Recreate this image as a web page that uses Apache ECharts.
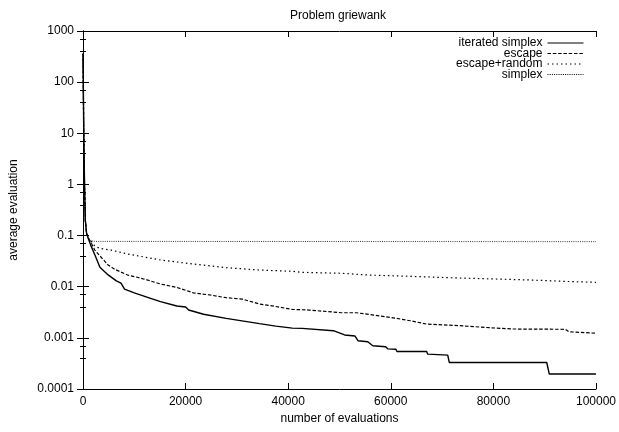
<!DOCTYPE html>
<html>
<head>
<meta charset="utf-8">
<script src="https://cdn.jsdelivr.net/npm/echarts@6/dist/echarts.min.js"></script>
<style>
  html, body { margin: 0; padding: 0; background: #fff; }
  #chart { width: 619px; height: 432px; }
</style>
</head>
<body>
<div id="chart"></div>
<script>
// series names
var seriesNames = ['iterated simplex', 'escape', 'escape+random', 'simplex'];

// x ticks and y tick labels (log axis, 1e-4 .. 1e3)
var xTicks = [0, 20000, 40000, 60000, 80000, 100000];
var yTickLabels = ['0.0001', '0.001', '0.01', '0.1', '1', '10', '100', '1000'];

// [evaluations, average evaluation]
var iteratedSimplex = [
    [0, 360], [150, 10], [300, 1], [450, 0.2], [700, 0.11], [1000, 0.09], [1500, 0.065],
    [2300, 0.042], [3300, 0.024], [4900, 0.017], [6500, 0.013], [7400, 0.0117], [8100, 0.009],
    [10000, 0.0076], [12600, 0.0062], [15100, 0.0051], [18300, 0.0042], [20000, 0.004],
    [20600, 0.0035], [23500, 0.0029], [27900, 0.0024], [34400, 0.0019], [37600, 0.0017],
    [40800, 0.00155], [42700, 0.00153], [48800, 0.00138], [51000, 0.00114], [53000, 0.00109],
    [53600, 0.00088], [55500, 0.00084], [56500, 0.0007], [59000, 0.00067], [59400, 0.00061],
    [61000, 0.0006], [61200, 0.00054], [67000, 0.00054], [67200, 0.00048], [71100, 0.00046],
    [71400, 0.00033], [90400, 0.00033], [90900, 0.000196], [100000, 0.000196]
];
var escape = [
    [0, 360], [150, 10], [300, 1], [450, 0.2], [700, 0.11], [1000, 0.09], [1500, 0.075],
    [2300, 0.052], [3300, 0.04], [4900, 0.0266], [6200, 0.0219], [8700, 0.0169],
    [10600, 0.0153], [12600, 0.0135], [15100, 0.0113], [18300, 0.0097], [21500, 0.0076],
    [24700, 0.0069], [27900, 0.0061], [31100, 0.0057], [34400, 0.0046], [37600, 0.0041],
    [40800, 0.0036], [44000, 0.0035], [50400, 0.0031], [53300, 0.0031], [58000, 0.00267],
    [60000, 0.00251], [63800, 0.00216], [67000, 0.00186], [73500, 0.00173], [79200, 0.00158],
    [83700, 0.00149], [94000, 0.00147], [94700, 0.00132], [100000, 0.00123]
];
var escapeRandom = [
    [0, 360], [150, 10], [300, 1], [450, 0.2], [700, 0.11], [1000, 0.09], [1500, 0.08],
    [2300, 0.0625], [3300, 0.056], [5500, 0.052], [8700, 0.0436], [15100, 0.0333],
    [21500, 0.0278], [27900, 0.0236], [34400, 0.0212], [40800, 0.02], [42700, 0.0191],
    [50400, 0.0183], [55700, 0.0169], [61900, 0.0162], [71500, 0.015], [81000, 0.0141],
    [87500, 0.0135], [94000, 0.0127], [100000, 0.0122]
];
var simplex = [
    [0, 360], [150, 10], [300, 1], [450, 0.2], [700, 0.11], [1000, 0.09], [1500, 0.08],
    [2300, 0.077], [100000, 0.076]
];

var chart = echarts.init(document.getElementById('chart'), null, {renderer: 'canvas'});

var font = 'Liberation Sans, Arial, Helvetica, sans-serif';
var axisLine = {show: true, lineStyle: {color: '#000', width: 1}};

// one legend per row so the text is right aligned like gnuplot
var legendTops = [37, 47.5, 58, 68.5];
var legends = seriesNames.map(function (name, i) {
    return {
        data: [name],
        right: 35,
        top: legendTops[i],
        padding: 0,
        align: 'right',
        itemWidth: 36,
        itemHeight: 10,
        itemStyle: {opacity: 0, borderWidth: 0},
        lineStyle: {width: 1},
        textStyle: {fontFamily: font, fontSize: 12, color: '#000'},
        selectedMode: false
    };
});

var lineStyles = [
    {color: '#000', width: 1.4, type: 'solid'},
    {color: '#000', width: 1.2, type: [3.5, 1.8]},
    {color: '#000', width: 1.2, type: [1.5, 3]},
    {color: '#000', width: 0.8, type: [1, 1.2]}
];
var datas = [iteratedSimplex, escape, escapeRandom, simplex];

var option = {
    animation: false,
    backgroundColor: '#fff',
    title: {
        text: 'Problem griewank',
        left: 290,
        top: 10,
        padding: 0,
        textStyle: {fontFamily: font, fontSize: 12, fontWeight: 'normal', color: '#000'}
    },
    legend: legends,
    grid: {left: 78, right: 21, top: 31, bottom: 43, containLabel: false},
    xAxis: [{
        type: 'value',
        min: xTicks[0],
        max: xTicks[xTicks.length - 1],
        interval: xTicks[1] - xTicks[0],
        name: 'number of evaluations',
        nameLocation: 'middle',
        nameGap: 22,
        nameTextStyle: {fontFamily: font, fontSize: 12, color: '#000'},
        axisLine: axisLine,
        axisTick: {show: true, inside: true, length: 6, lineStyle: {color: '#000'}},
        axisLabel: {
            margin: 7, fontFamily: font, fontSize: 12, color: '#000',
            formatter: function (v) { return String(v); }
        },
        splitLine: {show: false}
    }, {
        type: 'value',
        position: 'top',
        min: xTicks[0],
        max: xTicks[xTicks.length - 1],
        interval: xTicks[1] - xTicks[0],
        axisLine: axisLine,
        axisTick: {show: true, inside: true, length: 6, lineStyle: {color: '#000'}},
        axisLabel: {show: false},
        splitLine: {show: false}
    }],
    yAxis: [{
        type: 'log',
        logBase: 10,
        min: 0.0001,
        max: 1000,
        splitNumber: 7,
        name: 'average evaluation',
        nameLocation: 'middle',
        nameGap: 63,
        nameTextStyle: {fontFamily: font, fontSize: 12, color: '#000'},
        axisLine: axisLine,
        axisTick: {show: true, inside: true, length: 6, lineStyle: {color: '#000'}},
        minorTick: {show: true, splitNumber: 3, length: 3, lineStyle: {color: '#000'}},
        axisLabel: {
            margin: 9, fontFamily: font, fontSize: 12, color: '#000',
            formatter: function (v) {
                return yTickLabels[Math.round(Math.log10(v)) + 4];
            }
        },
        splitLine: {show: false}
    }, {
        type: 'log',
        logBase: 10,
        min: 0.0001,
        max: 1000,
        splitNumber: 7,
        position: 'right',
        axisLine: axisLine,
        axisTick: {show: true, inside: true, length: 6, lineStyle: {color: '#000'}},
        minorTick: {show: true, splitNumber: 3, length: 3, lineStyle: {color: '#000'}},
        axisLabel: {show: false},
        splitLine: {show: false}
    }],
    series: seriesNames.map(function (name, i) {
        return {
            name: name,
            type: 'line',
            xAxisIndex: 0,
            yAxisIndex: 0,
            data: datas[i],
            symbol: 'none',
            showSymbol: false,
            color: '#000',
            lineStyle: lineStyles[i],
            z: 10 - i
        };
    })
};

chart.setOption(option);
</script>
</body>
</html>
